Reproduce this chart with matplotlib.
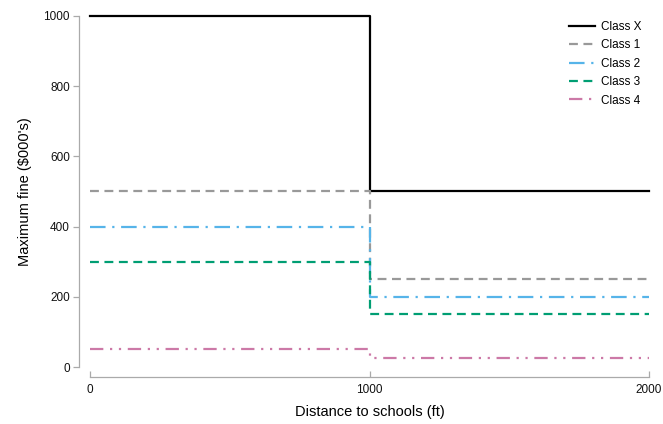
import matplotlib
matplotlib.use("Agg")
import matplotlib.pyplot as plt

plt.rcParams['font.family'] = ['Liberation Sans', 'DejaVu Sans']

# step breakpoints (ft) and fines ($000's)
distance = [0, 1000, 2000]
labels = ["Class X", "Class 1", "Class 2", "Class 3", "Class 4"]
fine_x = [1000, 500, 500]
fine_1 = [500, 250, 250]
fine_2 = [400, 200, 200]
fine_3 = [300, 150, 150]
fine_4 = [50, 25, 25]

series = [fine_x, fine_1, fine_2, fine_3, fine_4]
colors = ["#000000", "#999999", "#56B4E9", "#009E73", "#CC79A7"]
styles = ["-", (0, (4, 2.5)), (0, (7, 3, 1, 3)), (0, (4, 2.5)), (0, (6, 3, 1, 3, 1, 3))]

fig = plt.figure(figsize=(6.63, 4.24), dpi=100)
ax = fig.add_axes([90 / 663, 57 / 424, 559 / 663, 351 / 424])

for vals, lab, c, ls in zip(series, labels, colors, styles):
    ax.step(distance, vals, where="post", color=c, linestyle=ls, lw=1.6,
            label=lab, clip_on=False)

ax.set_xlim(0, 2000)
ax.set_ylim(0, 1000)
ax.set_xticks([0, 1000, 2000])
ax.set_yticks([0, 200, 400, 600, 800, 1000])

for s in ["top", "right"]:
    ax.spines[s].set_visible(False)
ax.spines["left"].set_position(("outward", 8))
ax.spines["bottom"].set_position(("outward", 7.5))
for s in ["left", "bottom"]:
    ax.spines[s].set_color("#aaaaaa")
    ax.spines[s].set_linewidth(0.9)
ax.tick_params(colors="#aaaaaa", labelcolor="#111111", labelsize=8.5, width=0.9)
ax.tick_params(axis="y", length=4.5, pad=2)
ax.tick_params(axis="x", direction="in", length=4, pad=5)

ax.set_xlabel("Distance to schools (ft)", fontsize=10.5, labelpad=6)
ax.set_ylabel("Maximum fine ($000's)", fontsize=10.5, labelpad=8)

ax.legend(loc="upper right", bbox_to_anchor=(1.005, 1.017), frameon=False, fontsize=8.5,
          handlelength=2.2, handletextpad=0.5, labelspacing=0.55)

fig.savefig("out.png", dpi=100)
